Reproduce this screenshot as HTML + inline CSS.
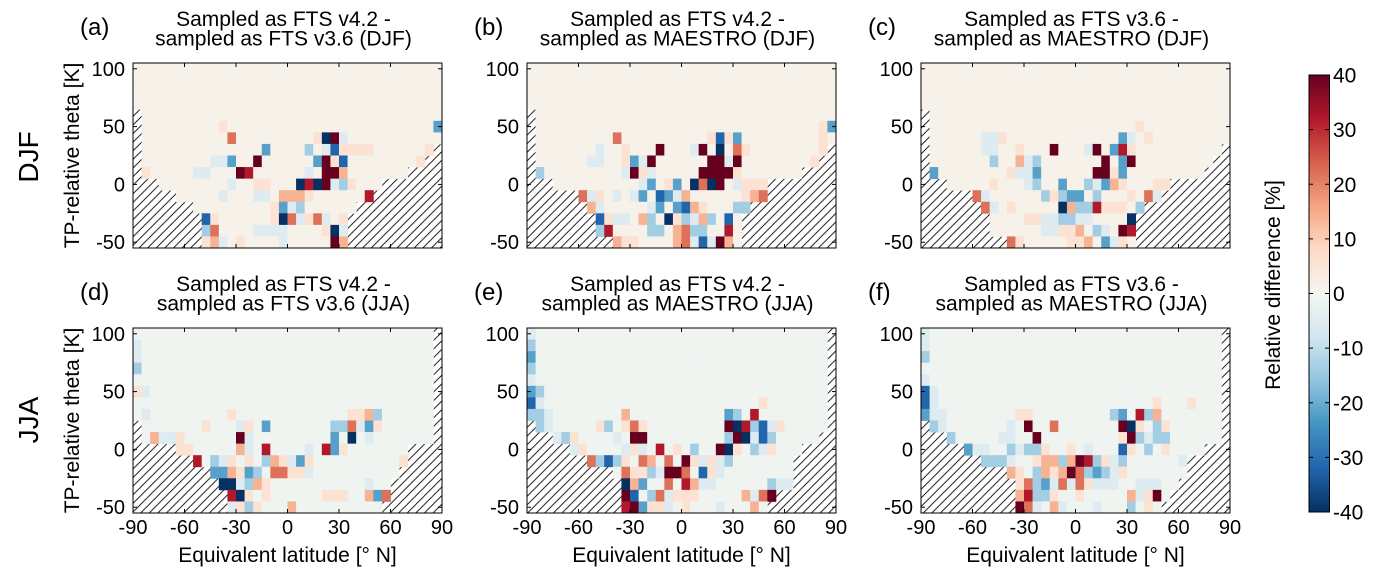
<!DOCTYPE html>
<html><head><meta charset="utf-8">
<style>
html,body{margin:0;padding:0;background:#fff;}
svg{display:block;font-family:"Liberation Sans",Arial,sans-serif;}
</style></head>
<body>
<svg id="fig" width="1376" height="577" viewBox="0 0 1376 577" xmlns="http://www.w3.org/2000/svg">
<defs>
<pattern id="hatch" patternUnits="userSpaceOnUse" width="8.6" height="8.6">
<line x1="0" y1="8.6" x2="8.6" y2="0" stroke="#000" stroke-width="0.9"/>
<line x1="-1" y1="1" x2="1" y2="-1" stroke="#000" stroke-width="0.9"/>
<line x1="7.6" y1="9.6" x2="9.6" y2="7.6" stroke="#000" stroke-width="0.9"/>
</pattern>
<linearGradient id="cbgrad" x1="0" y1="1" x2="0" y2="0">
<stop offset="0" stop-color="#053061"/><stop offset="0.1" stop-color="#2166ac"/>
<stop offset="0.2" stop-color="#4393c3"/><stop offset="0.3" stop-color="#92c5de"/>
<stop offset="0.4" stop-color="#d1e5f0"/><stop offset="0.5" stop-color="#f4f6f1"/>
<stop offset="0.6" stop-color="#fddbc7"/><stop offset="0.7" stop-color="#f4a582"/>
<stop offset="0.8" stop-color="#d6604d"/><stop offset="0.9" stop-color="#b2182b"/>
<stop offset="1" stop-color="#67001f"/>
</linearGradient>
</defs>
<g id="panels"></g>
<text x="0" y="0" font-size="28" text-anchor="middle" transform="translate(38,157) rotate(-90)">DJF</text>
<text x="0" y="0" font-size="28" text-anchor="middle" transform="translate(38,420) rotate(-90)">JJA</text>
<g>
<rect x="1309" y="75" width="20.5" height="437" fill="url(#cbgrad)" stroke="#000" stroke-width="1"/>
<g id="cbticks"></g>
<text font-size="21" text-anchor="middle" transform="translate(1280,285) rotate(-90)">Relative difference [%]</text>
</g>
</svg>
<script>
// ---- data ----
const latTicks = [-90,-60,-30,0,30,60,90];
const thetaTicks = [100,50,0,-50];
const cbTicks = [40,30,20,10,0,-10,-20,-30,-40];
const codeValues = {S:40,s:32,r:22,q:14,p:6,'0':1.5,'-':-1,m:-5,n:-14,o:-22,O:-32,X:-40};

const titlesA = ["Sampled as FTS v4.2 -","sampled as FTS v3.6 (DJF)"];
const titlesB = ["Sampled as FTS v4.2 -","sampled as MAESTRO (DJF)"];
const titlesC = ["Sampled as FTS v3.6 -","sampled as MAESTRO (DJF)"];
const titlesD = ["Sampled as FTS v4.2 -","sampled as FTS v3.6 (JJA)"];
const titlesE = ["Sampled as FTS v4.2 -","sampled as MAESTRO (JJA)"];
const titlesF = ["Sampled as FTS v3.6 -","sampled as MAESTRO (JJA)"];

const leftA=[0,0,0,0,1,1,1,1,1,1,3,5,7,8,8,8];
const rightA=[36,36,36,36,36,36,36,35,34,32,29,28,26,25,25,25];
const cellsA=["","","","","","10p 35o","11r 21p 22X 23S 24m","15o 20n 22m 23O 24p 25p 26p 27p 34p",
"9m 10m 11o 14S 21o 22S 23p 24O 33p","1p 7m 8m 12S 13s 20m 22S 23S 24q","11m 14p 15p 19X 20s 21X 22S 23m 24n 25p",
"10m 14m 15m 17q 18q 19q 20p 27s","16p 17o 18m 19n","8O 9p 16p 17X 18r 19m 20p 21r 22m 24p",
"8n 9r 14m 15m 16m 17m 22p 23X 24m","8p 9q 10m 12p 17m 23S 24q"];

const leftB=[0,0,0,0,1,1,1,1,1,1,3,6,7,8,8,10];
const rightB=[36,36,36,36,36,36,36,35,34,32,28,28,26,25,25,25];
const cellsB=["","","","","","34p 35o","10r 21p 22O 23p 24o 34p","8m 11p 15S 19m 20S 22X 24r 25p 34p",
"7m 8m 11p 12o 13m 14S 21S 22S 23m 24S 33p","1n 11m 12S 13p 14m 20S 21S 22S 23S 24p","13m 14o 16p 17o 19X 20r 21X 22S 24m 25p 26p 27p",
"6r 7m 8p 10m 12m 13o 15O 16o 17m 18q 25p 26q 27r","7q 8m 14m 15o 17o 18O 19q 20p 24n 25n","8O 9p 10m 11m 13q 14n 16X 17p 18n 19m 20q 21n 23O",
"8n 9s 14n 15n 17q 18r 19n 20n 23s","10q 11p 12p 17q 18r 19m 20O 21m 22S 23q"];

const leftC=[0,0,0,0,1,1,1,1,1,1,3,6,7,8,8,10];
const rightC=[36,36,36,36,36,36,36,35,34,33,29,28,26,25,25,25];
const cellsC=["","","","","","25p","7m 8m 9p 23o 24m 26p","0p 7m 8m 11p 15S 19m 20S 22o 23s 24p",
"0p 8n 11q 12m 13n 21S 23o 24S","1o 10p 11m 12m 13o 20S 21S 22p 23o","8p 12m 13n 16o 19n 20m 21o 22q 23p 27p 28p",
"6r 7m 14n 15p 16n 17o 18o 20n 24p 26r 27m","7r 8m 10p 16X 17q 18n 19n 20s 21p 22p 23p 25n","12p 13p 14m 15m 16n 17n 18m 19m 24X",
"14m 15m 16p 17p 18q 20n 21m 23S 24s","10r 11p 17p 18p 19q 21o 22m 23p"];

const leftD=[0,0,0,0,0,0,0,0,1,1,5,7,9,10,11,11];
const rightD=[35,35,35,35,35,35,35,35,35,35,32,32,31,30,30,29];
const cellsD=["","0m","0m","0n","","0p 1m","","1m 11p 25p 26p 27q 28n",
"8p 12m 13p 15o 23n 24n 25r 26m 27o 28p","2q 3m 4m 5p 12S 13m 23o 25X 27m","5p 6p 12q 13m 15s 20m 22s 23o 24p",
"7s 9n 10m 11p 13p 15n 16q 17p 18m 19o 20p 31p","9o 10o 11q 12p 13o 14n 16r 17r 18p 19p 20m","10X 11X 12m 13n 14q 15p 27m",
"11s 12X 13p 15p 22p 23p 24p 27q 28o 29r","11m 12p 13n 14p 18q"];

const leftE=[0,0,0,0,0,0,0,0,1,3,5,7,10,11,11,11];
const rightE=[35,35,35,35,35,35,35,35,35,34,32,31,31,31,29,28];
const cellsE=["0m","0n","0o","0n","0m","0o 1n","0O 1m 27p","0n 1n 2m 11q 23o 24n 26s",
"1n 2m 8p 9n 11p 12r 13p 23S 24X 25s 26n 27O 28m 29p","3m 4n 5p 10m 12S 13S 23n 24S 25X 26m 27O 28n","5m 6p 11m 12p 13m 15s 17p 19n 22S 23X 24p 26n 27m 28p",
"7r 8n 9O 10n 11p 13r 14q 16r 18S 19p 20m 21p 22m 23n","11r 12p 13p 14n 15m 16S 17S 18r 20O 21p 22m","11X 12q 13o 16r 18s 19q 20m 21m 28n 29m 30m",
"11S 12O 14n 15r 16m 17p 18p 19p 25q 26m 27r 28S","11s 12S 13o 14p 15p 16m 18p 22m 26q"];

const leftF=[0,0,0,0,0,0,0,0,1,3,5,7,10,11,11,11];
const rightF=[35,35,35,35,35,35,35,35,35,35,33,31,31,30,29,28];
const cellsF=["0m","0m","0n","","0m","0O 1m","0O 1m 27p 31p","0o 1m 2m 11p 12p 22n 23o 25s 26n 27q",
"1n 2m 10m 12S 15r 23S 24X 25p 27n 28p","3n 9m 10m 13S 23p 24S 25n 26m 27n 28n","5o 6m 7m 10n 11m 12n 13n 14p 17p 19m 23O 24p 26n 28p",
"7n 8n 9n 10m 13p 14q 15q 16n 17q 18S 19s 20n 21p 22m 23n 30m","10q 11p 13n 14q 15p 16q 17S 18r 19n 20o 21n 22m 23p","11p 12r 13n 14o 15m 16r 17m 18r 19p 20m 21m 22m 25m 26m 27m",
"11q 12s 13n 14n 15p 18p 24q 25m 26p 27S","11S 12r 13m 15q 16m 20m 24n 26p"];

// ---- rendering ----
const NS="http://www.w3.org/2000/svg";
const stops=[[-40,[5,48,97]],[-32,[33,102,172]],[-24,[67,147,195]],[-16,[146,197,222]],[-8,[209,229,240]],[0,[244,246,241]],[8,[253,219,199]],[16,[244,165,130]],[24,[214,96,77]],[32,[178,24,43]],[40,[103,0,31]]];
function colorOf(v){
  v=Math.max(-40,Math.min(40,v));
  for(let i=0;i<stops.length-1;i++){
    const [a,ca]=stops[i],[b,cb]=stops[i+1];
    if(v<=b){const t=(v-a)/(b-a);const c=ca.map((x,k)=>Math.round(x+(cb[k]-x)*t));return `rgb(${c[0]},${c[1]},${c[2]})`;}
  }
  return "rgb(103,0,31)";
}
function mk(tag,attrs,parent){const e=document.createElementNS(NS,tag);for(const k in attrs)e.setAttribute(k,attrs[k]);if(parent)parent.appendChild(e);return e;}

const W=309,H=185;
const panels=[
 {id:"a",x:133,y:63,t:titlesA,l:leftA,r:rightA,c:cellsA,bg:'0',bottom:false},
 {id:"b",x:527,y:63,t:titlesB,l:leftB,r:rightB,c:cellsB,bg:'0',bottom:false},
 {id:"c",x:921,y:63,t:titlesC,l:leftC,r:rightC,c:cellsC,bg:'0',bottom:false},
 {id:"d",x:133,y:328,t:titlesD,l:leftD,r:rightD,c:cellsD,bg:'-',bottom:true},
 {id:"e",x:527,y:328,t:titlesE,l:leftE,r:rightE,c:cellsE,bg:'-',bottom:true},
 {id:"f",x:921,y:328,t:titlesF,l:leftF,r:rightF,c:cellsF,bg:'-',bottom:true}
];
const root=document.getElementById("panels");
panels.forEach((p,pi)=>{
  const g=mk("g",{},root);
  
  
  const xS=lat=>p.x+(lat+90)/180*W;
  const yS=th=>p.y+(105-th)/160*H;
  const hb=mk("rect",{x:p.x,y:p.y,width:W,height:H,fill:"url(#hatch)"},g);
  
  
  for(let r=0;r<16;r++){
    const codes=new Array(36).fill(p.bg);
    p.c[r].split(" ").filter(s=>s).forEach(tok=>{const col=parseInt(tok);const ch=tok.replace(/^\d+/,'');codes[col]=ch;});
    const thTop=105-10*r, thBot=95-10*r;
    for(let c=p.l[r];c<p.r[r];c++){
      const lat0=-90+5*c;
      const rect=mk("rect",{x:xS(lat0).toFixed(2),y:yS(thTop).toFixed(2),width:(xS(lat0+5)-xS(lat0)+0.4).toFixed(2),height:(yS(thBot)-yS(thTop)+0.4).toFixed(2),fill:colorOf(codeValues[codes[c]])},g);
      
      
    }
  }
  const fr=mk("rect",{x:p.x,y:p.y,width:W,height:H,fill:"none",stroke:"#000","stroke-width":1},g);
  
  
  thetaTicks.forEach(t=>{
    const y=yS(t);
    mk("line",{x1:p.x,y1:y,x2:p.x+4,y2:y,stroke:"#000","stroke-width":1},g);
    mk("line",{x1:p.x+W,y1:y,x2:p.x+W-4,y2:y,stroke:"#000","stroke-width":1},g);
    const tl=mk("text",{x:p.x-8,y:y+7,"font-size":20,"text-anchor":"end"},g);
    
    
    tl.textContent=t;
  });
  latTicks.forEach(l=>{
    const x=xS(l);
    mk("line",{x1:x,y1:p.y+H,x2:x,y2:p.y+H-4,stroke:"#000","stroke-width":1},g);
    mk("line",{x1:x,y1:p.y,x2:x,y2:p.y+4,stroke:"#000","stroke-width":1},g);
    if(p.bottom){
      const xl=mk("text",{x:x,y:p.y+H+21,"font-size":20,"text-anchor":"middle"},g);
      
      
      xl.textContent=l;
    }
  });
  if(p.bottom){
    const xt=mk("text",{x:p.x+W/2,y:p.y+H+49,"font-size":21,"text-anchor":"middle"},g);
    
    
    xt.textContent="Equivalent latitude [\u00b0 N]";
  }
  if(pi%3===0){
    const yt=mk("text",{"font-size":21,"text-anchor":"middle",transform:`translate(79,${p.y+H/2}) rotate(-90)`},g);
    
    
    yt.textContent="TP-relative theta [K]";
  }
  const cx=p.x+W/2-4;
  p.t.forEach((line,i)=>{
    const tt=mk("text",{x:cx,y:p.y-37+i*19.5,"font-size":21,"text-anchor":"middle"},g);
    
    
    tt.textContent=line;
  });
  const lt=mk("text",{x:p.x-53,y:p.y-28,"font-size":24},g);
  
  
  lt.textContent="("+p.id+")";
});
const cbg=document.getElementById("cbticks");
cbTicks.forEach(v=>{
  const y=75+(40-v)/80*437;
  mk("line",{x1:1329.5,y1:y,x2:1325,y2:y,stroke:"#000","stroke-width":1},cbg);
  mk("line",{x1:1309,y1:y,x2:1313,y2:y,stroke:"#000","stroke-width":1},cbg);
  const t=mk("text",{x:1333,y:y+7.5,"font-size":21},cbg);
  
  
  t.textContent=v;
});
</script>
</body></html>
